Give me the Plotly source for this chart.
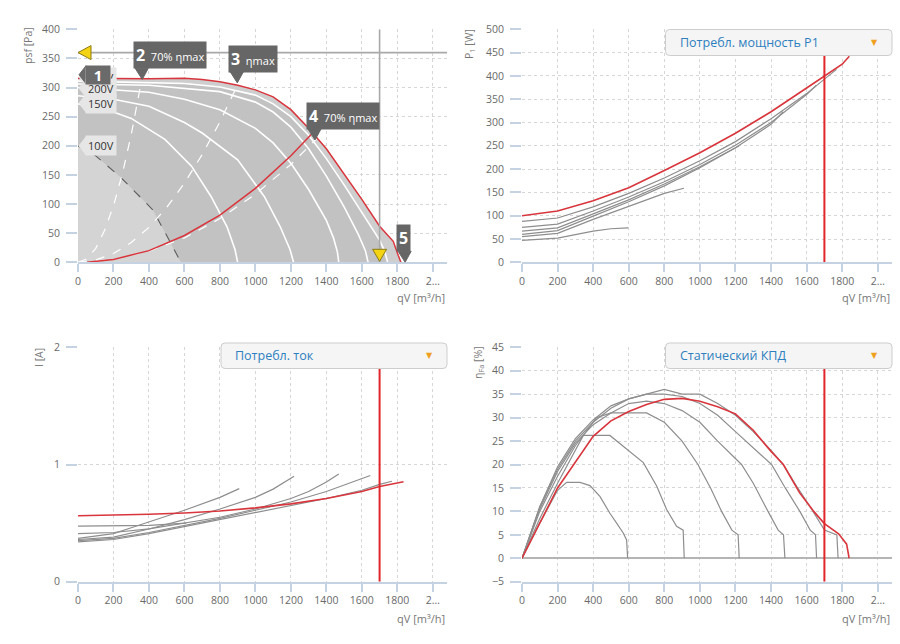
import plotly.graph_objects as go

W, H = 900, 644

# ---------------- data ----------------
x_tickvals = [0, 200, 400, 600, 800, 1000, 1200, 1400, 1600, 1800, 2000]
x_ticktext = ["0", "200", "400", "600", "800", "1000", "1200", "1400", "1600", "1800", "2…"]
x_range = [0, 2080]

psf_ticks = [0, 50, 100, 150, 200, 250, 300, 350, 400]
p1_ticks = [0, 50, 100, 150, 200, 250, 300, 350, 400, 450, 500]
i_ticks = [0, 1, 2]
eta_ticks = [-5, 0, 5, 10, 15, 20, 25, 30, 35, 40, 45]

# operating point (crosshair)
op_q = 1700
op_psf = 360

# fan curves psf [Pa] (top-left)
fan1_q = [0, 200, 400, 600, 700, 800, 900, 1000, 1100, 1200, 1300, 1400, 1500, 1600, 1700, 1777, 1805, 1820]
fan1_p = [316, 315, 315, 316, 314, 310, 304, 296, 284, 262, 230, 195, 152, 108, 62, 36, 12, 0]
fan2_q = [0, 200, 400, 600, 800, 1000, 1100, 1200, 1300, 1400, 1500, 1600, 1700, 1730, 1745]
fan2_p = [311, 310, 309, 307, 301, 287, 272, 250, 218, 178, 133, 85, 38, 18, 0]
fan3_q = [0, 400, 800, 1000, 1100, 1200, 1300, 1400, 1500, 1580, 1620, 1635]
fan3_p = [306, 304, 293, 275, 258, 232, 195, 148, 95, 48, 20, 0]
fan4_q = [0, 400, 600, 800, 1000, 1100, 1200, 1300, 1400, 1440, 1462, 1470]
fan4_p = [300, 292, 280, 262, 230, 205, 170, 125, 72, 42, 18, 0]
fan5_q = [0, 200, 400, 600, 700, 900, 1050, 1140, 1195, 1215]
fan5_p = [286, 280, 268, 240, 222, 176, 113, 61, 22, 0]
fan6_q = [0, 200, 300, 490, 640, 750, 840, 885, 900]
fan6_p = [272, 258, 247, 211, 165, 113, 61, 22, 0]
fan7_q = [0, 95, 237, 422, 514, 580]
fan7_p = [200, 184, 147, 90, 38, 0]

# system / efficiency guide curves
sys2_q = [0, 50, 100, 150, 200, 250, 300, 340, 358]
sys2_p = [0, 6, 24, 55, 97, 152, 219, 281, 312]
sys3_q = [0, 100, 200, 300, 400, 500, 600, 700, 800, 900]
sys3_p = [0, 4, 15, 34, 60, 94, 136, 185, 241, 305]
sys4_q = [0, 200, 400, 600, 800, 1000, 1200, 1345]
sys4_p = [0, 5, 19, 42, 75, 117, 168, 212]
sysr_q = [50, 200, 400, 600, 800, 1000, 1200, 1320]
sysr_p = [0, 5, 20, 46, 81, 127, 183, 221]

# voltage tags and callouts
tag_text = ["230V", "200V", "150V", "100V"]
tag_psf = [318, 299, 273, 200]
callout_num = ["2", "3", "4", "5"]
callout_txt = ["70% ηmax", "ηmax", "70% ηmax", ""]
callout_q = [362, 898, 1336, 1844]
callout_p = [314, 308, 210, 0]
point1_psf = 322

# power P1 [W] (top-right)
pw1_q = [0, 200, 400, 600, 800, 1000, 1200, 1400, 1600, 1700, 1800, 1840]
pw1_v = [100, 110, 132, 160, 197, 235, 277, 323, 374, 400, 425, 442]
pw2_q = [0, 200, 400, 600, 800, 1000, 1200, 1400, 1600, 1700, 1768]
pw2_v = [88, 95, 119, 148, 181, 218, 259, 308, 362, 392, 414]
pw3_q = [0, 200, 400, 600, 800, 1000, 1200, 1400, 1600, 1655]
pw3_v = [75, 82, 110, 140, 173, 210, 251, 300, 360, 380]
pw4_q = [0, 200, 400, 600, 800, 1000, 1200, 1400, 1468]
pw4_v = [67, 74, 104, 134, 168, 205, 246, 296, 323]
pw5_q = [0, 200, 400, 600, 800, 1000, 1221]
pw5_v = [60, 68, 99, 130, 164, 203, 250]
pw6_q = [0, 200, 400, 600, 800, 910]
pw6_v = [55, 62, 92, 120, 148, 159]
pw7_q = [0, 200, 400, 500, 597]
pw7_v = [47, 52, 67, 72, 74]

# current I [A] (bottom-left)
cur1_q = [0, 200, 400, 600, 800, 1000, 1200, 1400, 1600, 1700, 1800, 1835]
cur1_v = [0.563, 0.568, 0.575, 0.586, 0.603, 0.630, 0.664, 0.710, 0.770, 0.812, 0.838, 0.853]
cur2_q = [0, 200, 400, 600, 800, 1000, 1200, 1400, 1600, 1700, 1770]
cur2_v = [0.34, 0.36, 0.41, 0.47, 0.53, 0.59, 0.65, 0.71, 0.78, 0.83, 0.857]
cur3_q = [0, 200, 400, 600, 800, 1000, 1200, 1400, 1648]
cur3_v = [0.35, 0.37, 0.42, 0.48, 0.54, 0.61, 0.68, 0.77, 0.906]
cur4_q = [0, 200, 400, 600, 800, 1000, 1200, 1300, 1350, 1400, 1470]
cur4_v = [0.41, 0.42, 0.45, 0.50, 0.55, 0.62, 0.71, 0.77, 0.81, 0.85, 0.92]
cur5_q = [0, 200, 400, 600, 800, 1000, 1100, 1218]
cur5_v = [0.36, 0.38, 0.45, 0.53, 0.62, 0.72, 0.79, 0.90]
cur6_q = [0, 200, 300, 400, 600, 800, 909]
cur6_v = [0.37, 0.41, 0.46, 0.51, 0.61, 0.72, 0.794]
cur7_q = [0, 200, 400, 610]
cur7_v = [0.474, 0.474, 0.48, 0.50]

# static efficiency [%] (bottom-right)
eff1_q = [0, 200, 400, 500, 600, 700, 800, 900, 1000, 1100, 1200, 1300, 1400, 1469, 1560, 1640, 1700, 1780, 1825, 1839]
eff1_v = [0, 15, 26, 29.3, 31.3, 32.8, 33.9, 34.1, 33.5, 32.3, 30.8, 27.3, 22.8, 20, 14, 10, 7.4, 5.2, 3, 0]
eff2_q = [0, 100, 200, 300, 400, 500, 600, 700, 800, 900, 1000, 1100, 1200, 1300, 1400, 1469, 1550, 1636, 1700, 1770, 1777]
eff2_v = [0, 11, 19.5, 25.5, 29.5, 32.5, 34, 35, 36, 35, 35, 33, 30.5, 27, 23, 20, 15, 10, 6, 5, 0]
eff3_q = [0, 100, 200, 300, 400, 500, 600, 700, 800, 900, 1000, 1100, 1200, 1300, 1403, 1480, 1562, 1620, 1650, 1656]
eff3_v = [0, 11, 19, 25, 29, 32, 34, 35, 35, 34.5, 33, 30.5, 27, 23.5, 20, 15, 10, 6, 5, 0]
eff4_q = [0, 100, 200, 300, 400, 500, 600, 700, 800, 900, 1000, 1100, 1234, 1300, 1383, 1440, 1470, 1478]
eff4_v = [0, 10.5, 18.5, 24.5, 28.5, 31, 33, 33.5, 33, 31.5, 29, 25, 20, 16, 10, 6, 5, 0]
eff5_q = [0, 100, 200, 300, 420, 500, 600, 700, 800, 900, 989, 1060, 1122, 1180, 1215, 1221]
eff5_v = [0, 10, 17.5, 24, 30, 31, 31, 31, 29, 25, 20, 15, 10, 6, 5, 0]
eff6_q = [0, 100, 200, 345, 494, 569, 682, 757, 813, 869, 906, 912]
eff6_v = [0, 8.5, 16, 26.2, 26.2, 23.9, 20.4, 15.4, 10.4, 6.8, 6, 0]
eff7_q = [0, 100, 200, 251, 326, 382, 438, 494, 532, 569, 588, 594]
eff7_v = [0, 7.5, 14.5, 16.2, 16.2, 15.5, 13.2, 9.6, 7.5, 5.4, 3.9, 0]

dropdown_labels = ["Потребл. мощность P1", "Потребл. ток", "Статический КПД"]

# ---------------- style ----------------
FONT = "Open Sans"
AX = "#c4d2e2"
GRID = "#d6d6d6"
RED = "#d8363c"
GRAY = "#8e8e8e"
TICKFONT = dict(family=FONT, size=10.5, color="#6a6a6a")

L_DOM = [78 / W, 447 / W]
R_DOM = [522 / W, 892 / W]
T_DOM = [1 - 262.3 / H, 1 - 29.3 / H]
B_DOM = [1 - 581.7 / H, 1 - 347.3 / H]


def xaxis_cfg(dom, anchor):
    return dict(domain=dom, anchor=anchor, range=x_range, tickmode="array",
                tickvals=x_tickvals, ticktext=x_ticktext, showgrid=True,
                gridcolor=GRID, griddash="dot", gridwidth=1, showline=True,
                linecolor=AX, linewidth=2, ticks="outside", ticklen=8,
                tickcolor=AX, tickwidth=1.5, zeroline=False, tickfont=TICKFONT,
                fixedrange=True, automargin=False)


def yaxis_cfg(dom, anchor, rng, ticks, zeroline=False):
    return dict(domain=dom, anchor=anchor, range=rng, tickmode="array",
                tickvals=ticks, showgrid=True, gridcolor=GRID, griddash="dot",
                gridwidth=1, showline=False, ticks="outside", ticklen=11,
                tickcolor=AX, tickwidth=1.5, zeroline=zeroline,
                zerolinecolor="#b5b5b5", zerolinewidth=1.5,
                tickfont=TICKFONT, ticklabelstandoff=4, fixedrange=True,
                automargin=False)


fig = go.Figure()


def line(x, y, ax, color, width=1.3, dash=None):
    fig.add_trace(go.Scatter(x=x, y=y, mode="lines", xaxis=ax[0], yaxis=ax[1],
                             line=dict(color=color, width=width, dash=dash),
                             hoverinfo="skip", showlegend=False))


def area(x, y, ax, color):
    fig.add_trace(go.Scatter(x=x, y=y, mode="lines", xaxis=ax[0], yaxis=ax[1],
                             fill="tozeroy", fillcolor=color,
                             line=dict(width=0, color=color),
                             hoverinfo="skip", showlegend=False))


TL, TR, BL, BR = ("x", "y"), ("x2", "y2"), ("x3", "y3"), ("x4", "y4")

# ---- top-left: pressure ----
area(fan1_q, fan1_p, TL, "#cecece")
area(fan2_q, fan2_p, TL, "#c2c2c2")
area(fan7_q, fan7_p, TL, "#d4d4d4")
for fq, fp in [(fan2_q, fan2_p), (fan3_q, fan3_p), (fan4_q, fan4_p),
               (fan5_q, fan5_p), (fan6_q, fan6_p)]:
    line(fq, fp, TL, "white", 1.6)
line(fan7_q, fan7_p, TL, "#5c5c5c", 1.1, "dash")
for sq, sp in [(sys2_q, sys2_p), (sys3_q, sys3_p), (sys4_q, sys4_p)]:
    line(sq, sp, TL, "white", 1.2, "dash")
line(sysr_q, sysr_p, TL, RED, 1.5)
line(fan1_q, fan1_p, TL, RED, 1.5)
line([op_q, op_q], [psf_ticks[0], psf_ticks[-1]], TL, "#a9a9a9", 1.6)
line([x_range[0], x_range[1]], [op_psf, op_psf], TL, "#a9a9a9", 1.6)

# ---- top-right: power ----
for pq, pv in [(pw2_q, pw2_v), (pw3_q, pw3_v), (pw4_q, pw4_v), (pw5_q, pw5_v),
               (pw6_q, pw6_v), (pw7_q, pw7_v)]:
    line(pq, pv, TR, GRAY, 1.2)
line(pw1_q, pw1_v, TR, RED, 1.6)
line([op_q, op_q], [p1_ticks[0], p1_ticks[-1]], TR, "#e0262b", 2)

# ---- bottom-left: current ----
for cq, cv in [(cur2_q, cur2_v), (cur3_q, cur3_v), (cur4_q, cur4_v),
               (cur5_q, cur5_v), (cur6_q, cur6_v), (cur7_q, cur7_v)]:
    line(cq, cv, BL, GRAY, 1.2)
line(cur1_q, cur1_v, BL, RED, 1.6)
line([op_q, op_q], [i_ticks[0], i_ticks[-1]], BL, "#e0262b", 2)

# ---- bottom-right: efficiency ----
for eq, ev in [(eff2_q, eff2_v), (eff3_q, eff3_v), (eff4_q, eff4_v),
               (eff5_q, eff5_v), (eff6_q, eff6_v), (eff7_q, eff7_v)]:
    line(eq, ev, BR, GRAY, 1.2)
line(eff1_q, eff1_v, BR, RED, 1.6)
line([op_q, op_q], [eta_ticks[0], eta_ticks[-1]], BR, "#e0262b", 2)

shapes = []
annotations = []


def pix_path(xref, yref, xa, ya, path, color, line_color=None, width=1):
    shapes.append(dict(type="path", xref=xref, yref=yref, xsizemode="pixel",
                       ysizemode="pixel", xanchor=xa, yanchor=ya, path=path,
                       fillcolor=color,
                       line=dict(color=line_color or color, width=width),
                       layer="above"))


# yellow operating-point markers
pix_path("x", "y", x_range[0], op_psf, "M0,0 L13,7 L13,-7 Z", "#f4d313", "#8c7a10")
pix_path("x", "y", op_q, psf_ticks[0], "M0,1 L-7,13 L7,13 Z", "#f4d313", "#8c7a10")

# voltage tags
for t, p in zip(tag_text, tag_psf):
    pix_path("x", "y", x_range[0], p, "M1,0 L8,9 L8,-9 Z", "#e6e6e6")
    annotations.append(dict(x=x_range[0], y=p, xref="x", yref="y", text=t,
                            showarrow=False, xanchor="left", yanchor="middle",
                            xshift=7, bgcolor="#e6e6e6", borderpad=2,
                            font=dict(family=FONT, size=11, color="#333333")))

# callout "1"
pix_path("x", "y", x_range[0], point1_psf, "M1,0 L8,9 L8,-9 Z", "#6a6a6a")
annotations.append(dict(x=x_range[0], y=point1_psf, xref="x", yref="y",
                        text="<b>1</b>", showarrow=False, xanchor="left",
                        yanchor="middle", xshift=7, bgcolor="#6a6a6a",
                        borderpad=0, width=24, height=18,
                        font=dict(family=FONT, size=15, color="white")))

# callouts 2..5
for n, t, q, p in zip(callout_num, callout_txt, callout_q, callout_p):
    pix_path("x", "y", q, p, "M0,0 L-7,11 L6,11 Z", "#666666")
    txt = "<b><span style='font-size:16px'>%s</span></b>" % n
    if t:
        txt += "  " + t
    annotations.append(dict(x=q, y=p, xref="x", yref="y", text=txt,
                            showarrow=False, xanchor="left", yanchor="bottom",
                            xshift=-9, yshift=10, bgcolor="#666666", borderpad=2,
                            font=dict(family=FONT, size=11, color="white")))

# dropdown boxes (rounded)
boxes = [(665.5, 892, 29.5, 55.5), (221, 447, 343, 368.5), (665.5, 892, 343, 368.5)]
R = 4
for (x0, x1, y0, y1), lab in zip(boxes, dropdown_labels):
    w, h = x1 - x0, y1 - y0
    path = ("M{r},0 H{a} Q{w},0 {w},-{r} V-{b} Q{w},-{h} {a},-{h} H{r} "
            "Q0,-{h} 0,-{b} V-{r} Q0,0 {r},0 Z").format(r=R, a=w - R, b=h - R, w=w, h=h)
    pix_path("paper", "paper", x0 / W, 1 - y0 / H, path, "#f5f5f5", "#cdcdcd")
    annotations.append(dict(x=(x0 + 12) / W, y=1 - (y0 + y1) / 2 / H, xref="paper",
                            yref="paper", text=lab, showarrow=False,
                            xanchor="left", yanchor="middle",
                            font=dict(family=FONT, size=12.5, color="#2e7fc0")))
    annotations.append(dict(x=(x1 - 18) / W, y=1 - (y0 + y1) / 2 / H, xref="paper",
                            yref="paper", text="▼", showarrow=False,
                            xanchor="center", yanchor="middle",
                            font=dict(family="DejaVu Sans", size=8, color="#f0a020")))

# axis titles
for xr, yp in [(447, 298), (892, 298), (447, 618), (892, 618)]:
    annotations.append(dict(x=xr / W, y=1 - yp / H, xref="paper", yref="paper",
                            text="qV [m³/h]", showarrow=False, xanchor="right",
                            yanchor="middle",
                            font=dict(family=FONT, size=11, color="#777777")))
for txt, xp, yp in [("psf [Pa]", 28, 46), ("P<sub>1</sub> [W]", 469, 44),
                    ("I [A]", 39, 358), ("η<sub>Fa</sub> [%]", 478, 363)]:
    annotations.append(dict(x=xp / W, y=1 - yp / H, xref="paper", yref="paper",
                            text=txt, showarrow=False, textangle=-90,
                            xanchor="center", yanchor="middle",
                            font=dict(family=FONT, size=10.5, color="#777777")))

fig.update_layout(
    width=W, height=H, margin=dict(l=0, r=0, t=0, b=0, autoexpand=False),
    paper_bgcolor="white", plot_bgcolor="white", showlegend=False,
    xaxis=xaxis_cfg(L_DOM, "y"), yaxis=yaxis_cfg(T_DOM, "x", [0, 400], psf_ticks),
    xaxis2=xaxis_cfg(R_DOM, "y2"), yaxis2=yaxis_cfg(T_DOM, "x2", [0, 500], p1_ticks),
    xaxis3=xaxis_cfg(L_DOM, "y3"), yaxis3=yaxis_cfg(B_DOM, "x3", [0, 2], i_ticks),
    xaxis4=xaxis_cfg(R_DOM, "y4"), yaxis4=yaxis_cfg(B_DOM, "x4", [-5, 45], eta_ticks, True),
    shapes=shapes, annotations=annotations,
)

fig.write_html("out.html")
